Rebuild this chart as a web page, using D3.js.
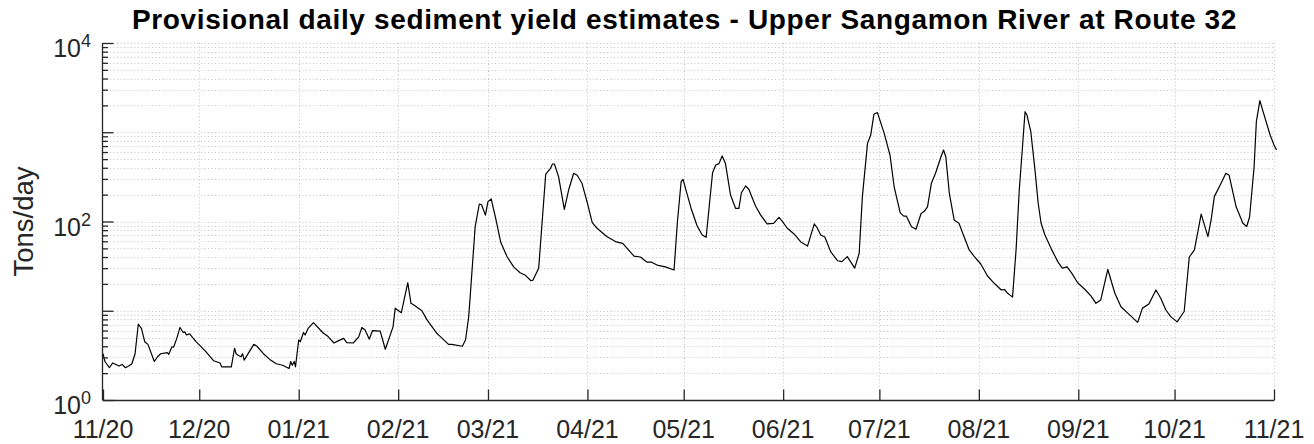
<!DOCTYPE html>
<html>
<head>
<meta charset="utf-8">
<script src="https://cdn.jsdelivr.net/npm/d3@7/dist/d3.min.js"></script>
<style>
  html, body { margin: 0; padding: 0; background: #fff; }
  svg { display: block; font-family: "Liberation Sans", Arial, Helvetica, sans-serif; }
</style>
</head>
<body>
<svg id="chart" width="1314" height="444"></svg>
<script>
// Provisional daily sediment yield, Upper Sangamon River at Route 32
// Days counted from 2020-11-01 (UTC), values in tons/day.
const startDate = Date.UTC(2020, 10, 1);
const endDate = Date.UTC(2021, 10, 1);

const dayOffset = [
  0, 0.6, 2, 3, 4, 5, 6, 7, 8, 9, 10, 11, 12, 13, 14, 16, 17, 18, 20, 20.5,
  21.5, 22, 23, 24, 25, 25.5, 26, 27, 29, 32, 34.5, 36.5, 37, 40, 41, 41.5, 42, 43, 43.5, 44,
  47, 48, 50, 52, 54, 56, 58, 58.5, 59, 59.6, 60, 61, 61.5, 62.5, 63, 64, 65.6, 68.7, 70, 72,
  73.3, 75, 76, 78, 79.7, 80.7, 81.7, 83, 84, 86.4, 88, 90.4, 91.1, 91.5, 93, 95, 96, 97, 99.4, 101,
  104, 105, 107.7, 108.7, 112, 113, 114, 116, 117.3, 118, 119.2, 120, 121, 122.3, 124, 126, 128, 130, 131.5, 133.4,
  134, 135.8, 138, 139.5, 140.1, 140.7, 142, 143.8, 145.2, 146.7, 147.8, 149.3, 151, 152.5, 154, 157, 160, 162, 165.5, 167.5,
  169.6, 171, 172.7, 175.3, 178, 179, 180.2, 180.8, 182, 183.4, 185.2, 186.8, 188, 190, 191, 192, 193, 194, 195.6, 197.2,
  198.2, 199, 200.3, 201.3, 203.4, 205, 207, 209, 210.7, 211.7, 213.3, 215.4, 217.5, 219.6, 221.7, 222.7, 223.7, 225, 226.8, 229,
  230.3, 232, 233, 234.3, 235.7, 236.7, 238.3, 239.3, 240.3, 241.4, 243.5, 245.3, 246.6, 248.5, 249.6, 250.4, 252, 253.4, 255, 256,
  257, 258.2, 259.5, 261.2, 262, 262.7, 263.8, 265.3, 266.8, 268.4, 270, 271.6, 273.6, 275.7, 277.8, 280, 281, 282, 283.5, 284.6,
  285.6, 286.3, 287.4, 288, 289.2, 290.5, 291.5, 292.4, 293.6, 295.5, 297.6, 299, 300.5, 302, 303.8, 306, 308, 309.5, 311, 313.2,
  315.4, 317.3, 320, 322.5, 324, 326, 328.2, 329.7, 331.3, 332.8, 334.8, 337, 338.6, 340.2, 342.3, 344.4, 345.4, 346.4, 348.5, 350,
  351, 353.2, 355.3, 356.5, 357.4, 358.8, 359.5, 360.6, 361.6, 363.8, 365, 365.8
];

const tons = [
  3.3, 2.7, 2.3, 2.6, 2.5, 2.4, 2.5, 2.3, 2.4, 2.55, 3.3, 7.1, 6.3, 4.5, 4.2, 2.7, 3.05, 3.3, 3.4, 3.25,
  3.95, 3.9, 4.9, 6.5, 5.7, 5.8, 5.35, 5.5, 4.5, 3.5, 2.75, 2.6, 2.35, 2.35, 3.8, 3.3, 3.2, 3.05, 3.3, 2.8,
  4.2, 4.0, 3.3, 2.85, 2.55, 2.45, 2.25, 2.7, 2.45, 2.7, 2.35, 4.7, 4.5, 5.7, 5.35, 6.4, 7.35, 5.6, 5.2, 4.35,
  4.6, 4.9, 4.4, 4.35, 5.1, 6.5, 6.1, 4.8, 6.0, 5.9, 3.7, 6.6, 10.7, 10.4, 9.5, 20.6, 12.1, 11.5, 10, 7.9,
  5.6, 5.2, 4.2, 4.2, 4.0, 4.7, 8.6, 87, 157, 154, 118, 167, 179, 113, 58, 40, 31, 26.7, 25.2, 21.7,
  22, 30, 340, 394, 441, 441, 318, 137, 230, 347, 330, 268, 160, 97, 84, 68, 59, 57, 41, 40,
  35, 35, 32.5, 31, 28.6, 95, 279, 297, 207, 137, 89, 70.5, 66.5, 352, 430, 445, 542, 450, 198, 140,
  140, 210, 250, 230, 149, 118, 94, 95.5, 111, 101, 84, 72.5, 59, 53, 94, 84, 70.5, 67, 46, 36.3,
  35.5, 40.4, 35.5, 30, 44, 190, 750, 930, 1600, 1660, 970, 556, 245, 125, 115, 115, 87.5, 82, 123, 130,
  146, 268, 347, 532, 632, 532, 207, 104, 95.5, 67.6, 48, 40.4, 33.4, 24.5, 20.3, 17.1, 17.3, 15.7, 14.2, 48,
  225, 489, 1700, 1560, 1014, 377, 160, 95.5, 70.5, 50, 35.5, 30, 31, 26.2, 20.6, 17.4, 14.6, 12.1, 13.2, 29,
  15.7, 11.1, 9, 7.4, 10.7, 11.9, 17.1, 13.8, 10.2, 8.6, 7.5, 9.8, 40, 48, 121, 67.6, 104, 190, 268, 347,
  330, 146, 95.5, 88, 113, 411, 1313, 2260, 1700, 931, 720, 632
];

// Axis settings
const yDomain = [1, 1e4];
const yLabelExponents = [0, 2, 4];
const chartTitle = "Provisional daily sediment yield estimates - Upper Sangamon River at Route 32";
const yLabel = "Tons/day";

(function draw() {
  const svg = d3.select("#chart");
  const plotLeft = 103, plotRight = 1274, plotTop = 43, plotBottom = 400;
  const axisColor = "#262626";
  const gridColor = "#c4c4c4";

  const x = d3.scaleUtc().domain([new Date(startDate), new Date(endDate)]).range([plotLeft, plotRight]);
  const y = d3.scaleLog().domain(yDomain).range([plotBottom, plotTop]);

  const series = dayOffset.map((d, i) => ({ date: new Date(startDate + d * 864e5), v: tons[i] }));

  const monthTicks = x.ticks(d3.utcMonth.every(1));

  // Log ticks: decades and the 2..9 minor steps
  const allYTicks = [];
  for (let e = 0; e < 4; e++) {
    for (let m = 1; m <= 9; m++) allYTicks.push({ v: m * Math.pow(10, e), major: m === 1 });
  }
  allYTicks.push({ v: 1e4, major: true });

  // Dotted grid
  const grid = svg.append("g")
    .attr("stroke", gridColor).attr("stroke-width", 1).attr("stroke-dasharray", "1 2.5");
  grid.selectAll("line.h").data(allYTicks.filter(t => t.v > 1)).join("line")
    .attr("class", "h")
    .attr("x1", plotLeft).attr("x2", plotRight)
    .attr("y1", d => Math.round(y(d.v)) + 0.5).attr("y2", d => Math.round(y(d.v)) + 0.5);
  grid.selectAll("line.v").data(monthTicks.slice(1)).join("line")
    .attr("class", "v")
    .attr("x1", d => Math.round(x(d)) + 0.5).attr("x2", d => Math.round(x(d)) + 0.5)
    .attr("y1", plotTop).attr("y2", plotBottom);

  // Data line
  const line = d3.line().x(d => x(d.date)).y(d => y(d.v));
  svg.append("path").datum(series)
    .attr("fill", "none").attr("stroke", "#000").attr("stroke-width", 1.2)
    .attr("stroke-linejoin", "round").attr("d", line);

  // Axes (ticks point inward)
  const xAxis = svg.append("g").attr("transform", `translate(0,${plotBottom + 0.5})`)
    .call(d3.axisTop(x).tickValues(monthTicks).tickSize(11).tickFormat(""));
  const yAxis = svg.append("g").attr("transform", `translate(${plotLeft - 0.5},0)`)
    .call(d3.axisRight(y).tickValues(allYTicks.map(t => t.v)).tickSize(0).tickFormat(""));
  [xAxis, yAxis].forEach(g => {
    g.select(".domain").attr("stroke", axisColor).attr("stroke-width", 1.3);
    g.selectAll(".tick line").attr("stroke", axisColor).attr("stroke-width", 1.3);
  });
  xAxis.select(".domain").attr("d", `M${plotLeft},0H${plotRight}`);
  yAxis.select(".domain").attr("d", `M0,${plotBottom}V${plotTop}`);
  yAxis.selectAll(".tick line")
    .attr("x2", d => allYTicks.find(t => t.v === d).major ? 11 : 5.5);

  // X tick labels
  svg.append("g").selectAll("text").data(monthTicks).join("text")
    .attr("x", d => x(d)).attr("y", 438)
    .attr("text-anchor", "middle").attr("font-size", 25).attr("fill", axisColor)
    .text(d3.utcFormat("%m/%y"));

  // Y tick labels as powers of ten
  const yl = svg.append("g").selectAll("text").data(yLabelExponents).join("text")
    .attr("x", 91).attr("y", d => y(Math.pow(10, d)) + 14)
    .attr("text-anchor", "end").attr("font-size", 25).attr("fill", axisColor);
  yl.append("tspan").text("10");
  yl.append("tspan").attr("dy", -10).attr("font-size", 18).text(d => d);

  // Y axis label
  svg.append("text")
    .attr("transform", `translate(33,${(plotTop + plotBottom) / 2}) rotate(-90)`)
    .attr("text-anchor", "middle").attr("font-size", 27.5).attr("fill", axisColor)
    .text(yLabel);

  // Title
  svg.append("text")
    .attr("x", (plotLeft + plotRight) / 2 - 4).attr("y", 29)
    .attr("text-anchor", "middle").attr("font-size", 28).attr("letter-spacing", 0.65)
    .attr("font-weight", "bold").attr("fill", "#000")
    .text(chartTitle);
})();
</script>
</body>
</html>
